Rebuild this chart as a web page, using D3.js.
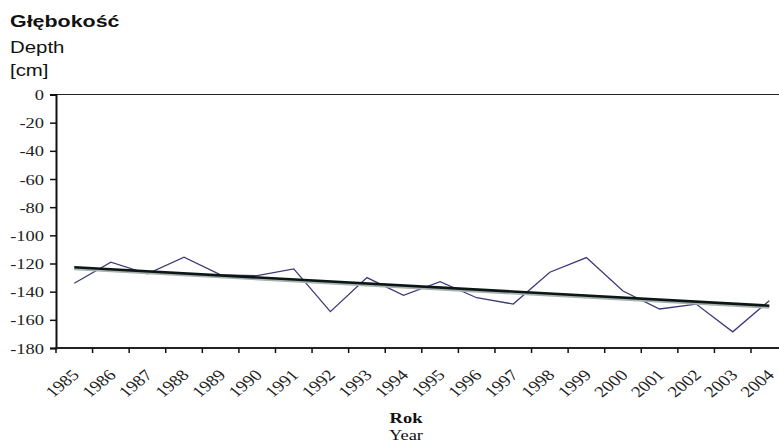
<!DOCTYPE html>
<html>
<head>
<meta charset="utf-8">
<script src="https://cdn.jsdelivr.net/npm/d3@7"></script>
<style>
  html, body { margin: 0; padding: 0; background: #fff; }
  svg { display: block; }
</style>
</head>
<body>
<div id="chart"></div>
<script>
// Annual groundwater depth, 1985–2004
const years = ["1985","1986","1987","1988","1989","1990","1991","1992","1993","1994",
               "1995","1996","1997","1998","1999","2000","2001","2002","2003","2004"];
const depth = [-134.0, -119.1, -127.4, -115.5, -128.1, -128.6, -123.8, -154.2, -130.0, -142.6,
               -132.9, -144.3, -148.8, -126.2, -115.8, -139.5, -152.3, -148.8, -168.5, -146.4];
const yTicks = [0, -20, -40, -60, -80, -100, -120, -140, -160, -180];
const titleLines = ["Głębokość", "Depth", "[cm]"];
const xTitle = ["Rok", "Year"];

const W = 779, H = 447;
const SX = 1.23;               // horizontal text stretch
const plot = { left: 56, top: 94.5, bottom: 348, right: 787.6 };

const svg = d3.select("#chart").append("svg")
  .attr("width", W).attr("height", H);

const x = d3.scaleBand().domain(years).range([plot.left, plot.right]);
const y = d3.scaleLinear().domain([-180, 0]).range([plot.bottom, plot.top]);
const cx = d => x(d) + x.bandwidth() / 2;

// Title block (top left)
const tb = svg.append("g").attr("font-family", "'Liberation Sans', Arial, sans-serif")
  .attr("font-size", 17).attr("fill", "#111");
const titleY = [26.5, 53, 76];
titleLines.forEach((t, i) => {
  tb.append("text")
    .attr("transform", `translate(10,${titleY[i]}) scale(${i === 0 ? 1.26 : 1.2},1)`)
    .attr("font-weight", i === 0 ? "bold" : "normal")
    .text(t);
});

// Plot frame: top border line
svg.append("line")
  .attr("x1", plot.left).attr("x2", plot.right)
  .attr("y1", y(0)).attr("y2", y(0))
  .attr("stroke", "#222").attr("stroke-width", 1);

// Y axis
const yAxis = svg.append("g")
  .attr("transform", `translate(${plot.left},0)`)
  .call(d3.axisLeft(y).tickValues(yTicks).tickSize(6).tickFormat(d3.format("d")));
yAxis.select(".domain").attr("stroke", "#111").attr("stroke-width", 2);
yAxis.selectAll(".tick line").attr("stroke", "#111").attr("stroke-width", 1.5);
yAxis.selectAll(".tick text")
  .attr("x", null).attr("dy", null)
  .attr("transform", `translate(-12,5) scale(${SX},1)`)
  .attr("text-anchor", "end")
  .attr("font-family", "'Liberation Serif', 'Times New Roman', serif")
  .attr("font-size", 15).attr("fill", "#222")
  .text(d => d === 0 ? "0" : "-" + Math.abs(d));

// X axis: baseline and category boundary ticks
const xg = svg.append("g");
xg.append("line")
  .attr("x1", plot.left - 1).attr("x2", plot.right)
  .attr("y1", plot.bottom).attr("y2", plot.bottom)
  .attr("stroke", "#222").attr("stroke-width", 2);
const bounds = years.map(d => x(d)).concat([x.range()[1]]);
xg.selectAll("line.tk").data(bounds).enter().append("line")
  .attr("class", "tk")
  .attr("x1", d => d).attr("x2", d => d)
  .attr("y1", plot.bottom).attr("y2", plot.bottom + 5)
  .attr("stroke", "#111").attr("stroke-width", 1.5);

// X tick labels, rotated
xg.selectAll("text.lbl").data(years).enter().append("text")
  .attr("class", "lbl")
  .attr("transform", d => `translate(${cx(d) + 6},${plot.bottom + 28}) scale(${SX},1) rotate(-45)`)
  .attr("text-anchor", "end")
  .attr("font-family", "'Liberation Serif', 'Times New Roman', serif")
  .attr("font-size", 15.5).attr("fill", "#222")
  .text(d => d);

// X axis title
xTitle.forEach((t, i) => {
  svg.append("text")
    .attr("transform", `translate(406,${[423, 440][i]}) scale(${SX},1)`)
    .attr("text-anchor", "middle")
    .attr("font-family", "'Liberation Serif', 'Times New Roman', serif")
    .attr("font-size", 15)
    .attr("font-weight", i === 0 ? "bold" : "normal")
    .attr("fill", "#111")
    .text(t);
});

// Data series
const line = d3.line().x((d, i) => cx(years[i])).y(d => y(d));
svg.append("path")
  .datum(depth)
  .attr("d", line)
  .attr("fill", "none")
  .attr("stroke", "#3e3a78")
  .attr("stroke-width", 1.3)
  .attr("stroke-linejoin", "miter");

// Linear trend (least squares over year index)
const n = depth.length;
const idx = d3.range(n);
const mi = d3.mean(idx), md = d3.mean(depth);
const slope = d3.sum(idx, i => (i - mi) * (depth[i] - md)) / d3.sum(idx, i => (i - mi) ** 2);
const icpt = md - slope * mi;
const trend = [0, n - 1].map(i => ({ i, v: icpt + slope * i }));

svg.append("line")
  .attr("x1", cx(years[trend[0].i])).attr("y1", y(trend[0].v) + 1.5)
  .attr("x2", cx(years[trend[1].i])).attr("y2", y(trend[1].v) + 1.5)
  .attr("stroke", "#a9b2b0").attr("stroke-width", 3);
svg.append("line")
  .attr("x1", cx(years[trend[0].i])).attr("y1", y(trend[0].v))
  .attr("x2", cx(years[trend[1].i])).attr("y2", y(trend[1].v))
  .attr("stroke", "#0b1715").attr("stroke-width", 2.6);
</script>
</body>
</html>
